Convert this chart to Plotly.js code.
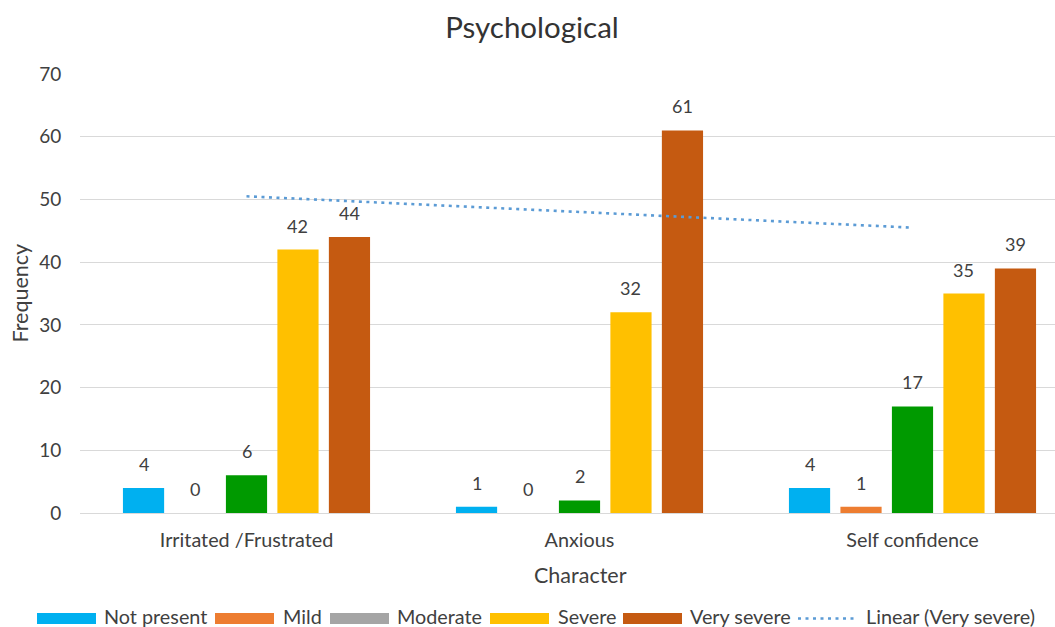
<!DOCTYPE html>
<html>
<head>
<meta charset="utf-8">
<script src="https://cdn.plot.ly/plotly-3.0.1.min.js"></script>
<style>
  html, body { margin: 0; padding: 0; background: #fff; }
  #chart { width: 1055px; height: 627px; }
</style>
</head>
<body>
<div id="chart"></div>
<script>
// Symptom frequencies per character trait
const categories = ['Irritated /Frustrated', 'Anxious', 'Self confidence'];
const seriesNames = ['Not present', 'Mild', 'Moderate', 'Severe', 'Very severe'];
const notPresent = [4, 1, 4];
const mild = [0, 0, 1];
const moderate = [6, 2, 17];
const severe = [42, 32, 35];
const verySevere = [44, 61, 39];
const trendName = 'Linear (Very severe)';

const seriesValues = [notPresent, mild, moderate, severe, verySevere];
const barColors = ['#00B0F0', '#ED7D31', '#009A00', '#FFC000', '#C55A11'];
const legendColors = ['#00B0F0', '#ED7D31', '#A5A5A5', '#FFC000', '#C55A11'];
const trendColor = '#5B9BD5';
const trendDash = '3px,4.5px';

const FONT = 'Lato, "Open Sans", sans-serif';
const BARGAP = 0.227;
const BARGROUPGAP = 0.2;

// plot area in pixels (used to place legend/titles in paper coords)
const W = 1055, H = 627;
const M = { l: 80, r: 0, t: 74, b: 114 };
const plotW = W - M.l - M.r, plotH = H - M.t - M.b;
const px = x => (x - M.l) / plotW;
const py = y => (H - M.b - y) / plotH;

// Bars
const traces = seriesNames.map((name, i) => ({
  type: 'bar',
  name: name,
  x: categories,
  y: seriesValues[i],
  marker: { color: barColors[i], line: { width: 0 } },
  showlegend: false,
  hoverinfo: 'x+y+name'
}));

// Least-squares linear trend over the Very severe series
const n = verySevere.length;
const xs = verySevere.map((_, i) => i + 1);
const mx = xs.reduce((a, b) => a + b, 0) / n;
const my = verySevere.reduce((a, b) => a + b, 0) / n;
let sxy = 0, sxx = 0;
xs.forEach((x, i) => { sxy += (x - mx) * (verySevere[i] - my); sxx += (x - mx) * (x - mx); });
const slope = sxy / sxx;
const intercept = my - slope * mx;
const trendY = xs.map(x => intercept + slope * x);

traces.push({
  type: 'scatter',
  mode: 'lines',
  name: trendName,
  x: categories,
  y: trendY,
  line: { color: trendColor, width: 2.6, dash: trendDash },
  showlegend: false,
  hoverinfo: 'skip'
});

// Value labels above each bar
const slot = (1 - BARGAP) / seriesNames.length;
const annotations = [];
seriesValues.forEach((vals, si) => {
  vals.forEach((v, ci) => {
    annotations.push({
      xref: 'x', yref: 'y',
      x: ci + (si - (seriesNames.length - 1) / 2) * slot,
      y: v,
      yanchor: 'bottom', xanchor: 'center',
      yshift: 11,
      text: String(v),
      showarrow: false,
      font: { family: FONT, size: 18, color: '#404040' }
    });
  });
});

// Axis titles
annotations.push({
  xref: 'paper', yref: 'paper', x: px(580), y: py(575),
  xanchor: 'center', yanchor: 'middle', showarrow: false,
  text: 'Character', font: { family: FONT, size: 21.5, color: '#404040' }
});
annotations.push({
  xref: 'paper', yref: 'paper', x: px(19), y: 0.5,
  xanchor: 'center', yanchor: 'middle', showarrow: false, textangle: -90,
  text: 'Frequency', font: { family: FONT, size: 21.5, color: '#404040' }
});

// Legend row along the bottom
const swatchY = 618.5;
const legendTextY = 615.5;
const swatchLeft = [37, 215, 330, 490, 623];
const swatchW = 59, swatchH = 11;
const textLeft = [103, 282, 396, 557, 689, 865];
const legendFont = { family: FONT, size: 19.8, color: '#404040' };
const shapes = [];
seriesNames.forEach((name, i) => {
  shapes.push({
    type: 'rect', xref: 'paper', yref: 'paper',
    x0: px(swatchLeft[i]), x1: px(swatchLeft[i] + swatchW),
    y0: py(swatchY + swatchH / 2), y1: py(swatchY - swatchH / 2),
    fillcolor: legendColors[i], line: { width: 0 }
  });
  annotations.push({
    xref: 'paper', yref: 'paper', x: px(textLeft[i]), y: py(legendTextY),
    xanchor: 'left', yanchor: 'middle', showarrow: false, borderpad: 0,
    text: name, font: legendFont
  });
});
shapes.push({
  type: 'line', xref: 'paper', yref: 'paper',
  x0: px(798), x1: px(856), y0: py(swatchY), y1: py(swatchY),
  line: { color: trendColor, width: 2.6, dash: trendDash }
});
annotations.push({
  xref: 'paper', yref: 'paper', x: px(textLeft[5]), y: py(legendTextY),
  xanchor: 'left', yanchor: 'middle', showarrow: false, borderpad: 0,
  text: trendName, font: legendFont
});

const layout = {
  width: W, height: H,
  margin: M,
  paper_bgcolor: '#ffffff', plot_bgcolor: '#ffffff',
  font: { family: FONT, color: '#595959', size: 18 },
  title: {
    text: 'Psychological',
    font: { family: FONT, size: 29.5, color: '#333333' },
    xref: 'container', yref: 'container',
    x: 532 / W, y: 1 - 28 / H, xanchor: 'center', yanchor: 'middle'
  },
  barmode: 'group',
  bargap: BARGAP,
  bargroupgap: BARGROUPGAP,
  showlegend: false,
  xaxis: {
    type: 'category',
    range: [-0.5, -0.5 + plotW / 333],
    showgrid: false, showline: false, zeroline: false,
    ticks: 'outside', ticklen: 9, tickcolor: 'rgba(0,0,0,0)',
    tickfont: { family: FONT, size: 19.8, color: '#404040' },
    fixedrange: true
  },
  yaxis: {
    range: [0, 70], dtick: 10, tick0: 0,
    showgrid: true, gridcolor: '#D9D9D9', gridwidth: 1,
    zeroline: true, zerolinecolor: '#D9D9D9', zerolinewidth: 1,
    showline: false,
    ticks: 'outside', ticklen: 14, tickcolor: 'rgba(0,0,0,0)',
    tickfont: { family: FONT, size: 19, color: '#404040' },
    fixedrange: true
  },
  annotations: annotations,
  shapes: shapes
};

Plotly.newPlot('chart', traces, layout, { displayModeBar: false, staticPlot: true });
</script>
</body>
</html>
